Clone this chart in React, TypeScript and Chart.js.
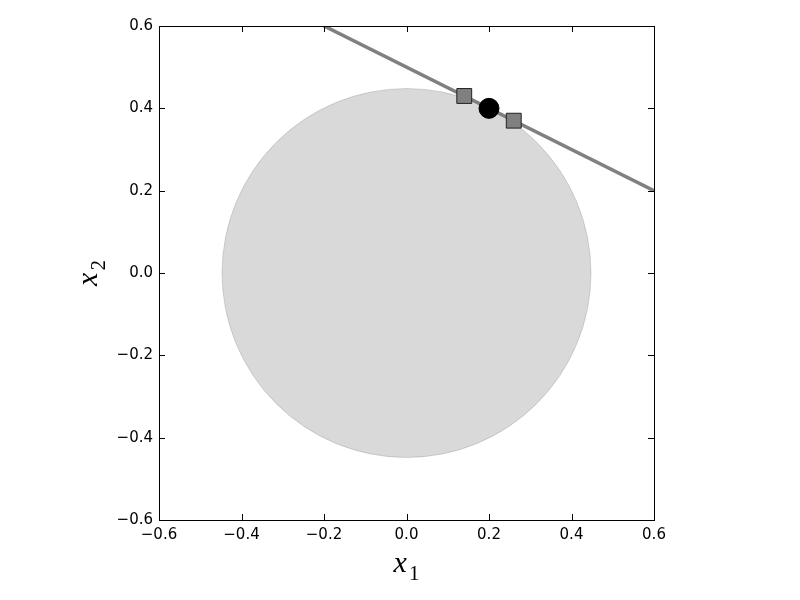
import React, { useEffect, useRef } from "react";
import { Chart, registerables } from "chart.js";

Chart.register(...registerables);

const axisMin = -0.6;
const axisMax = 0.6;
const tickValues = [-0.6, -0.4, -0.2, 0.0, 0.2, 0.4, 0.6];
const circleCenter = [0, 0];
const circleRadius = 0.4472;
const tangentLine = [
  { x: -0.2, y: 0.6 },
  { x: 0.6, y: 0.2 },
];
const squarePoints = [
  { x: 0.14, y: 0.43 },
  { x: 0.26, y: 0.37 },
];
const dotPoints = [{ x: 0.2, y: 0.4 }];

const fmt = (v: number) => {
  const s = Math.abs(v).toFixed(1);
  return v < -1e-9 ? "\u2212" + s : s;
};

const framePlugin = {
  id: "framePlugin",
  beforeDatasetsDraw(chart: any) {
    const { ctx, scales } = chart;
    const xs = scales.x;
    const ys = scales.y;
    const cx = xs.getPixelForValue(circleCenter[0]);
    const cy = ys.getPixelForValue(circleCenter[1]);
    const r = Math.abs(xs.getPixelForValue(circleRadius) - cx);
    ctx.save();
    ctx.beginPath();
    ctx.arc(cx, cy, r, 0, Math.PI * 2);
    ctx.fillStyle = "rgba(128,128,128,0.3)";
    ctx.fill();
    ctx.lineWidth = 1;
    ctx.strokeStyle = "rgba(128,128,128,0.3)";
    ctx.stroke();
    ctx.restore();
  },
  afterDraw(chart: any) {
    const { ctx, chartArea, scales } = chart;
    const xs = scales.x;
    const ys = scales.y;
    const { left, right, top, bottom } = chartArea;
    ctx.save();
    ctx.strokeStyle = "#000";
    ctx.lineWidth = 1;
    const tl = 6;
    ctx.beginPath();
    tickValues.forEach((v) => {
      const px = Math.round(xs.getPixelForValue(v)) + 0.5;
      ctx.moveTo(px, bottom);
      ctx.lineTo(px, bottom - tl);
      ctx.moveTo(px, top);
      ctx.lineTo(px, top + tl);
      const py = Math.round(ys.getPixelForValue(v)) + 0.5;
      ctx.moveTo(left, py);
      ctx.lineTo(left + tl, py);
      ctx.moveTo(right, py);
      ctx.lineTo(right - tl, py);
    });
    ctx.stroke();
    ctx.strokeRect(Math.round(left) + 0.5, Math.round(top) + 0.5, Math.round(right - left), Math.round(bottom - top));

    // axis titles
    ctx.fillStyle = "#000";
    ctx.textBaseline = "alphabetic";
    ctx.textAlign = "left";
    const main = "italic 30px 'Liberation Serif'";
    const sub = "21px 'Liberation Serif'";
    const midX = (left + right) / 2;
    ctx.font = main;
    const wx = ctx.measureText("x").width;
    ctx.font = sub;
    const w1 = ctx.measureText("1").width;
    const startX = midX - (wx + 2 + w1) / 2;
    ctx.font = main;
    ctx.fillText("x", startX, 572);
    ctx.font = sub;
    ctx.fillText("1", startX + wx + 2, 580);

    const midY = (top + bottom) / 2;
    ctx.translate(97, midY);
    ctx.rotate(-Math.PI / 2);
    ctx.font = sub;
    const w2 = ctx.measureText("2").width;
    const sx = -(wx + 2 + w2) / 2;
    ctx.font = main;
    ctx.fillText("x", sx, 0);
    ctx.font = sub;
    ctx.fillText("2", sx + wx + 2, 8);
    ctx.restore();
  },
};

export default function App() {
  const ref = useRef<HTMLCanvasElement | null>(null);
  useEffect(() => {
    if (!ref.current) return;
    const tickFont = { family: "'DejaVu Sans'", size: 15 };
    const chart = new Chart(ref.current, {
      type: "scatter",
      data: {
        datasets: [
          {
            data: dotPoints,
            pointStyle: "circle",
            pointRadius: 10,
            pointHoverRadius: 10,
            backgroundColor: "#000",
            borderColor: "#000",
            borderWidth: 1,
          },
          {
            data: squarePoints,
            pointStyle: "rect",
            pointRadius: 10.5,
            pointHoverRadius: 10.5,
            backgroundColor: "#808080",
            borderColor: "#222",
            borderWidth: 1,
          },
          {
            data: tangentLine,
            showLine: true,
            pointRadius: 0,
            borderColor: "#808080",
            borderWidth: 3.6,
            fill: false,
          },
        ],
      } as any,
      options: {
        responsive: false,
        animation: false,
        devicePixelRatio: 1,
        layout: { padding: { top: 26, right: 146, left: 0, bottom: 0 } },
        plugins: { legend: { display: false }, tooltip: { enabled: false } },
        scales: {
          x: {
            type: "linear",
            min: axisMin,
            max: axisMax,
            afterBuildTicks: (s: any) => {
              s.ticks = tickValues.map((v) => ({ value: v }));
            },
            afterFit: (s: any) => {
              s.height = 80;
            },
            grid: { display: false, drawTicks: false },
            border: { display: false },
            ticks: {
              font: tickFont,
              color: "#000",
              padding: 6,
              maxRotation: 0,
              callback: (v: any) => fmt(Number(v)),
            },
          },
          y: {
            type: "linear",
            min: axisMin,
            max: axisMax,
            afterBuildTicks: (s: any) => {
              s.ticks = tickValues.map((v) => ({ value: v }));
            },
            afterFit: (s: any) => {
              s.width = 159;
            },
            grid: { display: false, drawTicks: false },
            border: { display: false },
            ticks: {
              font: tickFont,
              color: "#000",
              padding: 6,
              callback: (v: any) => fmt(Number(v)),
            },
          },
        },
      } as any,
      plugins: [framePlugin],
    });
    return () => chart.destroy();
  }, []);
  return (
    <div style={{ position: "absolute", left: 0, top: 0, width: 800, height: 600, background: "#fff" }}>
      <canvas ref={ref} width={800} height={600} />
    </div>
  );
}
